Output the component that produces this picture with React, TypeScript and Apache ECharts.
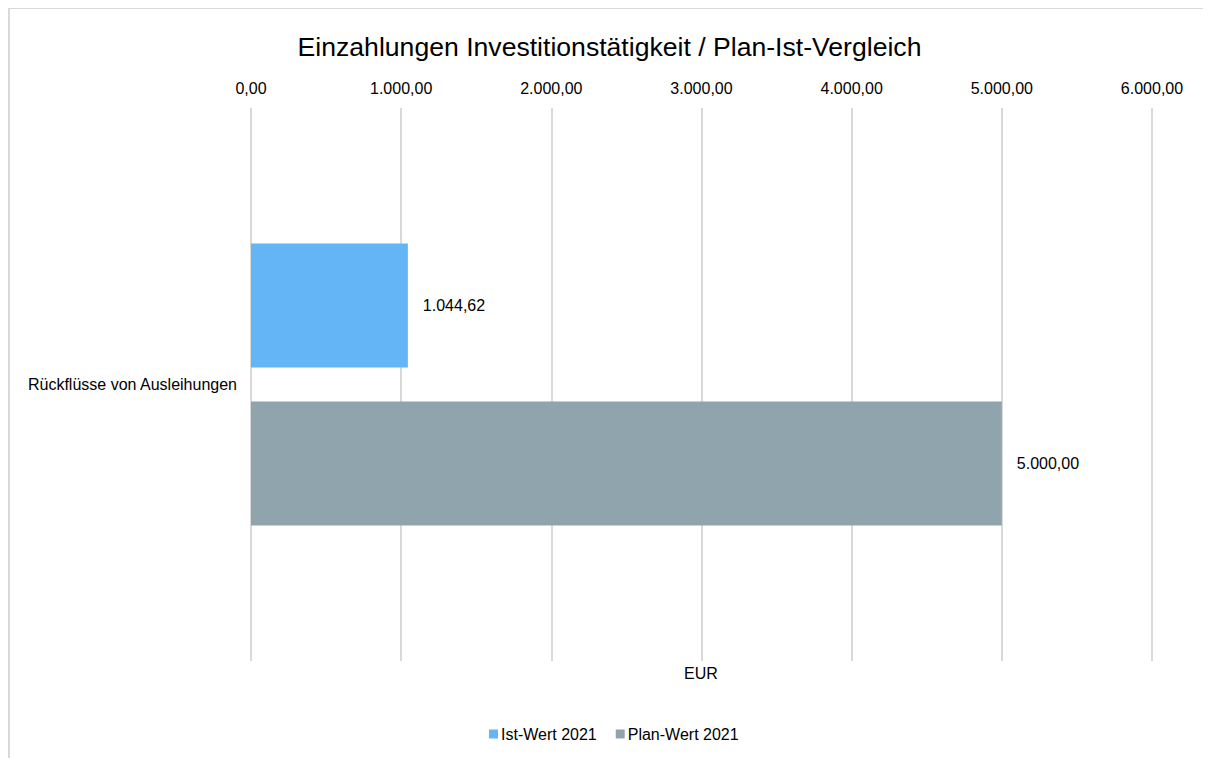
import React, { useEffect, useRef } from "react";
import * as echarts from "echarts";

const categories = ["Rückflüsse von Ausleihungen"];
const istWerte = [1044.62];
const planWerte = [5000];
const seriesNames = ["Ist-Wert 2021", "Plan-Wert 2021"];
const titleText = "Einzahlungen Investitionstätigkeit / Plan-Ist-Vergleich";
const axisUnit = "EUR";

function fmt(v: number): string {
  const neg = v < 0;
  const abs = Math.abs(v);
  const fixed = abs.toFixed(2);
  const [intPart, dec] = fixed.split(".");
  const withDots = intPart.replace(/\B(?=(\d{3})+(?!\d))/g, ".");
  return (neg ? "-" : "") + withDots + "," + dec;
}

export default function App() {
  const ref = useRef<HTMLDivElement>(null);
  useEffect(() => {
    if (!ref.current) return;
    const chart = echarts.init(ref.current, null, { renderer: "svg" });
    const font = "'Liberation Sans', Arial, sans-serif";
    chart.setOption({
      animation: false,
      textStyle: { fontFamily: font },
      title: {
        text: titleText,
        left: "center",
        top: 20,
        textStyle: { fontSize: 26.6, fontWeight: "normal", color: "#000", fontFamily: font },
      },
      legend: {
        left: 481,
        top: 718,
        padding: 0,
        itemWidth: 9,
        itemHeight: 9,
        itemGap: 19,
        icon: "rect",
        textStyle: { fontSize: 16, color: "#000", padding: [0, 0, 0, -2], fontFamily: font },
        data: seriesNames,
      },
      grid: { left: 243, right: 59, top: 100, bottom: 97 },
      xAxis: {
        type: "value",
        position: "top",
        min: 0,
        max: 6000,
        interval: 1000,
        axisLine: { show: false },
        axisTick: { show: false },
        axisLabel: {
          margin: 12,
          fontSize: 16,
          color: "#000",
          fontFamily: font,
          formatter: (v: number) => fmt(v),
        },
        splitLine: { lineStyle: { color: "#d9d9d9", width: 2 } },
      },
      yAxis: {
        type: "category",
        data: categories,
        inverse: true,
        axisLine: { show: false },
        axisTick: { show: false },
        axisLabel: { margin: 14, fontSize: 16, color: "#000", fontFamily: font },
        splitLine: { show: false },
      },
      series: [
        {
          name: seriesNames[0],
          type: "bar",
          data: istWerte,
          barWidth: 124,
          barGap: "27.4%",
          itemStyle: { color: "#64B5F6" },
          label: {
            show: true,
            position: "right",
            distance: 15,
            fontSize: 16,
            color: "#000",
            fontFamily: font,
            formatter: (p: any) => fmt(p.value),
          },
        },
        {
          name: seriesNames[1],
          type: "bar",
          data: planWerte,
          barWidth: 124,
          barGap: "27.4%",
          itemStyle: { color: "#90A4AE" },
          label: {
            show: true,
            position: "right",
            distance: 15,
            fontSize: 16,
            color: "#000",
            fontFamily: font,
            formatter: (p: any) => fmt(p.value),
          },
        },
      ],
      graphic: [
        {
          type: "line",
          shape: { x1: 0, y1: 0.5, x2: 1203, y2: 0.5 },
          style: { stroke: "#d9d9d9", lineWidth: 1 },
        },
        {
          type: "line",
          shape: { x1: 1, y1: 0, x2: 1, y2: 750 },
          style: { stroke: "#d9d9d9", lineWidth: 2 },
        },
        {
          type: "text",
          x: 693,
          y: 665,
          style: {
            text: axisUnit,
            fontSize: 16,
            fill: "#000",
            fontFamily: font,
            textAlign: "center",
            textVerticalAlign: "middle",
          },
        },
      ],
    });
    return () => chart.dispose();
  }, []);
  return <div ref={ref} style={{ width: 1203, height: 750 }} />;
}
